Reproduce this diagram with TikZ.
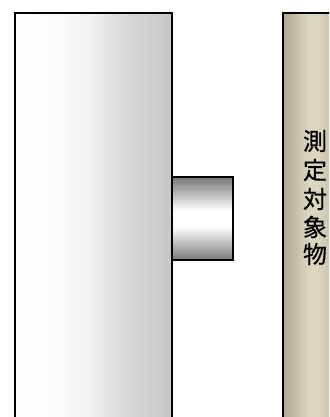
\documentclass[tikz,border=0pt]{standalone}
\usepackage{fontspec}
\newfontfamily\cjk[FakeBold=0.6]{Noto Sans CJK JP}
\usetikzlibrary{calc}
\pgfdeclarehorizontalshading{bodyshade}{100bp}{rgb(0bp)=(1,1,1);rgb(25bp)=(1,1,1);rgb(39bp)=(0.985,0.985,0.985);rgb(50bp)=(0.94,0.94,0.94);rgb(58bp)=(0.86,0.86,0.86);rgb(75bp)=(0.78,0.78,0.78);rgb(100bp)=(0.78,0.78,0.78)}
\pgfdeclarehorizontalshading{targetshade}{100bp}{rgb(0bp)=(0.68,0.66,0.58);rgb(25bp)=(0.68,0.66,0.58);rgb(43bp)=(0.86,0.84,0.75);rgb(49bp)=(0.86,0.84,0.75);rgb(58bp)=(0.79,0.77,0.69);rgb(100bp)=(0.79,0.77,0.69)}
\pgfdeclareverticalshading{tipshade}{100bp}{rgb(0bp)=(0.47,0.47,0.47);rgb(25bp)=(0.47,0.47,0.47);rgb(45bp)=(1,1,1);rgb(55bp)=(1,1,1);rgb(75bp)=(0.47,0.47,0.47);rgb(100bp)=(0.47,0.47,0.47)}
\tikzset{
  px/.style={x=1pt,y=-1pt},
  part/.style={draw=black,line width=2pt},
  label/.style={font=\cjk\fontsize{24}{24}\selectfont,inner sep=0pt,text=black}
}
\begin{document}
\begin{tikzpicture}[px]
\useasboundingbox (0,0) rectangle (329,417);
\clip (0,0) rectangle (329,417);
\fill[white] (0,0) rectangle (329,417);
\node[part,shading=bodyshade,minimum width=157pt,minimum height=430pt,inner sep=0pt,anchor=north west] (body) at (14.3,12) {};
\node[part,shading=tipshade,minimum width=61pt,minimum height=83pt,inner sep=0pt,anchor=north west] (tip) at (171.3,176.3) {};
\node[part,shading=targetshade,minimum width=70pt,minimum height=430pt,inner sep=0pt,anchor=north west] (target) at (282.3,12) {};
\node[label] (c1) at (315,141) {測};
\node[label] (c2) at (315,170) {定};
\node[label] (c3) at (315,199) {対};
\node[label] (c4) at (315,227) {象};
\node[label] (c5) at (315,254) {物};
\end{tikzpicture}
\end{document}
